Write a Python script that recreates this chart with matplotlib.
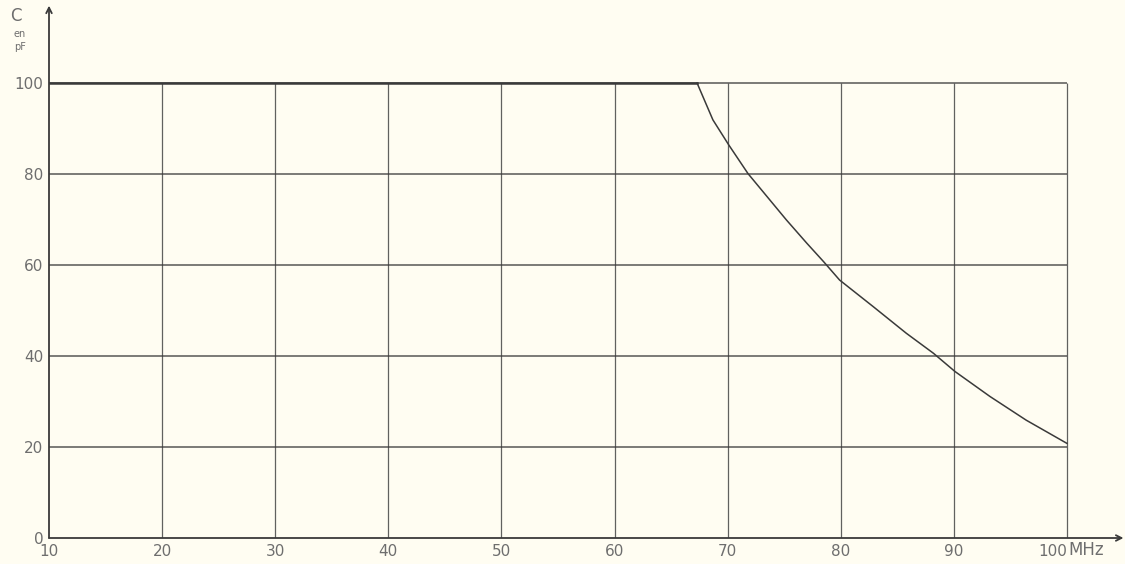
import matplotlib.pyplot as plt
import numpy as np

# C (pF) vs frequency (MHz)
freq = [10, 67.3, 68.7, 70.1, 71.8, 73.5, 75.2, 77.0, 78.5, 79.9,
        82.9, 85.8, 88.2, 90.1, 93.2, 96.4, 100]
cap = [100, 100, 91.9, 86.4, 80.1, 75.0, 69.9, 64.8, 60.7, 56.7,
       50.8, 45.0, 40.6, 36.6, 31.1, 25.9, 20.8]

x_grid = [10, 20, 30, 40, 50, 60, 70, 80, 90, 100]
y_grid = [0, 20, 40, 60, 80, 100]
x_labels = ['10', '20', '30', '40', '50', '60', '70', '80', '90', '100']
y_labels = ['0', '20', '40', '60', '80', '100']

paper = '#fffdf2'
ink = '#3a3a3a'
pencil = '#6e6e6e'

fig = plt.figure(figsize=(11.25, 5.64), dpi=100, facecolor=paper)
ax = fig.add_axes([49/1125, 26/564, (1120-49)/1125, (538-10)/564])
ax.set_facecolor(paper)
ax.set_xlim(10, 10 + (1120-49)/11.31)
ax.set_ylim(0, 528/4.55)

for s in ax.spines.values():
    s.set_visible(False)

# grid drawn by hand, stopping at 100 on both axes
ax.hlines(y_grid[1:], 10, 100, colors=ink, lw=1.1, alpha=0.85)
ax.vlines(x_grid[1:], 0, 100, colors=ink, lw=0.9, alpha=0.8)

# axes with arrows
ax.annotate('', xy=(105, 0), xytext=(10, 0), annotation_clip=False,
            arrowprops=dict(arrowstyle='->', color=ink, lw=1.3,
                            shrinkA=0, shrinkB=0))
ax.annotate('', xy=(10, 117), xytext=(10, 0), annotation_clip=False,
            arrowprops=dict(arrowstyle='->', color=ink, lw=1.3,
                            shrinkA=0, shrinkB=0))

ax.plot(freq[1:], cap[1:], color=ink, lw=1.1, solid_joinstyle='round')
ax.plot(freq[:2], cap[:2], color=ink, lw=1.8)

ax.set_xticks(x_grid)
ax.set_xticklabels(x_labels, fontsize=11, color=pencil)
ax.set_yticks(y_grid)
ax.set_yticklabels(y_labels, fontsize=11, color=pencil)
ax.tick_params(length=0, pad=4)
ax.get_xticklabels()[-1].set_horizontalalignment('right')

fig.text(1068/1125, 1 - 550/564, 'MHz', fontsize=12, color=pencil,
         ha='left', va='center')
fig.text(10/1125, 1 - 16/564, 'C', fontsize=12, color=pencil, ha='left', va='center')
fig.text(14/1125, 1 - 34/564, 'en', fontsize=7, color=pencil, ha='left', va='center')
fig.text(14/1125, 1 - 47/564, 'pF', fontsize=7, color=pencil, ha='left', va='center')

fig.savefig('out.png', dpi=100, facecolor=paper)
